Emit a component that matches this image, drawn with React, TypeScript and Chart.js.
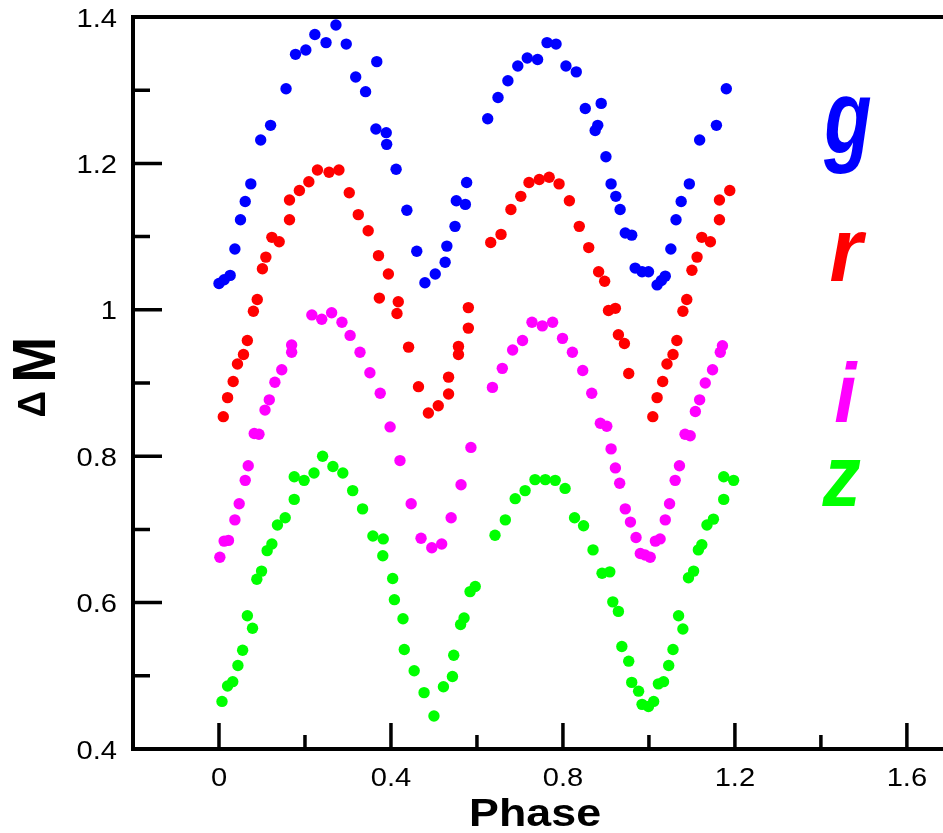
import React, { useEffect, useRef } from 'react';
import { Chart, registerables } from 'chart.js';

Chart.register(...registerables);

// ---------- data (phase, ΔM) ----------
const G_PHASE = [0.0, 0.012, 0.026, 0.037, 0.05, 0.061, 0.074, 0.097, 0.12, 0.156, 0.178, 0.202, 0.223, 0.249, 0.272, 0.296, 0.318, 0.341, 0.367, 0.365, 0.389, 0.39, 0.412, 0.437, 0.46, 0.479, 0.503, 0.526, 0.53, 0.549, 0.552, 0.573, 0.576, 0.625, 0.649, 0.672, 0.695, 0.717, 0.741, 0.763, 0.784, 0.807, 0.831, 0.852, 0.889, 0.881, 0.875, 0.9, 0.912, 0.923, 0.933, 0.945, 0.96, 0.968, 0.984, 0.999, 1.019, 1.029, 1.038, 1.051, 1.063, 1.075, 1.094, 1.118, 1.157, 1.18];
const G_MAG = [1.036, 1.041, 1.047, 1.083, 1.123, 1.148, 1.172, 1.232, 1.252, 1.302, 1.349, 1.355, 1.376, 1.365, 1.389, 1.363, 1.318, 1.298, 1.339, 1.247, 1.242, 1.226, 1.192, 1.136, 1.08, 1.037, 1.049, 1.065, 1.087, 1.114, 1.149, 1.144, 1.174, 1.261, 1.29, 1.313, 1.333, 1.344, 1.342, 1.365, 1.363, 1.333, 1.325, 1.275, 1.282, 1.252, 1.245, 1.209, 1.172, 1.155, 1.137, 1.105, 1.102, 1.057, 1.052, 1.052, 1.034, 1.04, 1.046, 1.083, 1.123, 1.148, 1.172, 1.232, 1.252, 1.302];

const R_PHASE = [0.01, 0.02, 0.033, 0.043, 0.057, 0.066, 0.08, 0.089, 0.101, 0.109, 0.123, 0.14, 0.164, 0.164, 0.187, 0.209, 0.229, 0.256, 0.279, 0.303, 0.324, 0.347, 0.371, 0.373, 0.394, 0.414, 0.417, 0.441, 0.464, 0.487, 0.51, 0.534, 0.534, 0.557, 0.557, 0.58, 0.58, 0.632, 0.656, 0.679, 0.702, 0.721, 0.745, 0.768, 0.791, 0.815, 0.838, 0.86, 0.883, 0.897, 0.906, 0.922, 0.929, 0.943, 0.953, 1.009, 1.019, 1.032, 1.042, 1.056, 1.065, 1.079, 1.088, 1.1, 1.112, 1.123, 1.143, 1.164, 1.164, 1.188];
const R_MAG = [0.854, 0.88, 0.902, 0.926, 0.939, 0.958, 0.998, 1.014, 1.056, 1.072, 1.099, 1.093, 1.123, 1.15, 1.163, 1.175, 1.191, 1.188, 1.191, 1.16, 1.13, 1.108, 1.074, 1.016, 1.049, 0.995, 1.011, 0.949, 0.895, 0.859, 0.869, 0.885, 0.908, 0.939, 0.95, 0.975, 1.003, 1.092, 1.103, 1.137, 1.155, 1.174, 1.178, 1.181, 1.172, 1.149, 1.114, 1.085, 1.052, 1.039, 0.999, 1.002, 0.966, 0.954, 0.913, 0.854, 0.88, 0.902, 0.926, 0.939, 0.958, 0.998, 1.014, 1.054, 1.072, 1.099, 1.093, 1.123, 1.15, 1.163];

const I_PHASE = [0.002, 0.012, 0.022, 0.037, 0.047, 0.061, 0.068, 0.082, 0.093, 0.107, 0.117, 0.13, 0.146, 0.169, 0.169, 0.216, 0.239, 0.262, 0.286, 0.305, 0.328, 0.351, 0.375, 0.398, 0.421, 0.447, 0.47, 0.495, 0.518, 0.54, 0.563, 0.586, 0.636, 0.659, 0.683, 0.706, 0.728, 0.752, 0.776, 0.799, 0.822, 0.846, 0.867, 0.887, 0.902, 0.912, 0.922, 0.932, 0.945, 0.957, 0.97, 0.98, 0.991, 1.003, 1.015, 1.026, 1.038, 1.048, 1.061, 1.071, 1.084, 1.096, 1.108, 1.118, 1.131, 1.148, 1.166, 1.171];
const I_MAG = [0.662, 0.684, 0.685, 0.713, 0.735, 0.767, 0.787, 0.831, 0.83, 0.863, 0.877, 0.901, 0.918, 0.942, 0.952, 0.993, 0.987, 0.996, 0.983, 0.965, 0.942, 0.914, 0.886, 0.84, 0.794, 0.735, 0.688, 0.675, 0.68, 0.716, 0.761, 0.812, 0.894, 0.92, 0.945, 0.958, 0.983, 0.978, 0.983, 0.961, 0.942, 0.917, 0.886, 0.845, 0.841, 0.81, 0.784, 0.763, 0.728, 0.71, 0.689, 0.667, 0.665, 0.662, 0.684, 0.687, 0.713, 0.735, 0.767, 0.787, 0.83, 0.828, 0.861, 0.877, 0.9, 0.918, 0.942, 0.951];

const Z_PHASE = [0.007, 0.02, 0.032, 0.044, 0.055, 0.066, 0.078, 0.088, 0.099, 0.112, 0.123, 0.136, 0.154, 0.175, 0.175, 0.198, 0.221, 0.241, 0.265, 0.288, 0.311, 0.334, 0.358, 0.382, 0.381, 0.404, 0.408, 0.428, 0.431, 0.454, 0.477, 0.5, 0.522, 0.543, 0.546, 0.562, 0.57, 0.584, 0.596, 0.642, 0.666, 0.689, 0.712, 0.735, 0.759, 0.782, 0.805, 0.827, 0.848, 0.87, 0.891, 0.909, 0.916, 0.929, 0.937, 0.953, 0.96, 0.976, 0.984, 0.999, 1.011, 1.022, 1.034, 1.046, 1.056, 1.069, 1.079, 1.092, 1.104, 1.115, 1.123, 1.135, 1.15, 1.174, 1.174, 1.197];
const Z_MAG = [0.465, 0.486, 0.492, 0.514, 0.535, 0.582, 0.565, 0.632, 0.643, 0.671, 0.68, 0.706, 0.716, 0.741, 0.772, 0.767, 0.777, 0.8, 0.786, 0.777, 0.753, 0.728, 0.691, 0.687, 0.664, 0.633, 0.604, 0.578, 0.536, 0.507, 0.477, 0.445, 0.485, 0.499, 0.528, 0.57, 0.579, 0.615, 0.622, 0.692, 0.713, 0.742, 0.753, 0.768, 0.768, 0.767, 0.756, 0.716, 0.705, 0.672, 0.64, 0.642, 0.601, 0.588, 0.54, 0.52, 0.491, 0.479, 0.461, 0.458, 0.465, 0.489, 0.492, 0.514, 0.536, 0.582, 0.564, 0.634, 0.643, 0.672, 0.679, 0.706, 0.714, 0.741, 0.772, 0.767];

const X_MAJOR = [0, 0.4, 0.8, 1.2, 1.6];
const X_MINOR = [0.2, 0.6, 1.0, 1.4];
const X_LABELS = ['0', '0.4', '0.8', '1.2', '1.6'];
const Y_MAJOR = [0.4, 0.6, 0.8, 1.0, 1.2, 1.4];
const Y_MINOR = [0.5, 0.7, 0.9, 1.1, 1.3];
const Y_LABELS = ['0.4', '0.6', '0.8', '1', '1.2', '1.4'];

const BAND_NAMES = ['g', 'r', 'i', 'z'];
const BAND_COLORS = ['#0000ff', '#ff0000', '#ff00ff', '#00ff00'];
// label ink boxes in data units: [phaseLeft, phaseRight, magTop, magBottom]
const BAND_BOXES = [
  [1.406, 1.515, 1.2915, 1.1855],
  [1.422, 1.506, 1.1055, 1.039],
  [1.433, 1.487, 0.9295, 0.8455],
  [1.402, 1.493, 0.7945, 0.7315],
];

const FONT = '"Liberation Sans", Arial, sans-serif';

function drawFit(ctx: CanvasRenderingContext2D, text: string, font: string, color: string,
  cx: number, cy: number, w: number, h: number, rotate: boolean) {
  ctx.save();
  ctx.font = font;
  ctx.fillStyle = color;
  ctx.textAlign = 'left';
  ctx.textBaseline = 'alphabetic';
  const m = ctx.measureText(text);
  const inkW = m.actualBoundingBoxLeft + m.actualBoundingBoxRight;
  const inkH = m.actualBoundingBoxAscent + m.actualBoundingBoxDescent;
  const inkCx = (m.actualBoundingBoxRight - m.actualBoundingBoxLeft) / 2;
  const inkCy = (m.actualBoundingBoxDescent - m.actualBoundingBoxAscent) / 2;
  ctx.translate(cx, cy);
  if (rotate) ctx.rotate(-Math.PI / 2);
  const along = rotate ? h : w;
  const across = rotate ? w : h;
  ctx.scale(along / inkW, across / inkH);
  ctx.fillText(text, -inkCx, -inkCy);
  ctx.restore();
}

const framePlugin = {
  id: 'frame',
  afterDraw(chart: any) {
    const { ctx, chartArea } = chart;
    const { left, top, right, bottom } = chartArea;
    const xs = chart.scales.x;
    const ys = chart.scales.y;
    ctx.save();
    ctx.strokeStyle = '#000';
    ctx.lineCap = 'butt';
    ctx.lineJoin = 'miter';
    // frame (left, top, bottom)
    ctx.lineWidth = 4;
    ctx.beginPath();
    ctx.moveTo(right + 2, top);
    ctx.lineTo(left, top);
    ctx.lineTo(left, bottom);
    ctx.lineTo(right + 2, bottom);
    ctx.stroke();
    // ticks (inward)
    ctx.lineWidth = 3.5;
    ctx.beginPath();
    X_MAJOR.forEach((v) => { const p = xs.getPixelForValue(v); ctx.moveTo(p, bottom); ctx.lineTo(p, bottom - 26); });
    X_MINOR.forEach((v) => { const p = xs.getPixelForValue(v); ctx.moveTo(p, bottom); ctx.lineTo(p, bottom - 14); });
    Y_MAJOR.forEach((v) => { const p = ys.getPixelForValue(v); ctx.moveTo(left, p); ctx.lineTo(left + 29, p); });
    Y_MINOR.forEach((v) => { const p = ys.getPixelForValue(v); ctx.moveTo(left, p); ctx.lineTo(left + 17, p); });
    ctx.stroke();
    // tick labels
    ctx.fillStyle = '#000';
    ctx.font = `26px ${FONT}`;
    ctx.textBaseline = 'alphabetic';
    const sx = 1.12;
    X_MAJOR.forEach((v, i) => {
      const p = xs.getPixelForValue(v);
      ctx.save();
      ctx.translate(p, bottom + 37);
      ctx.scale(sx, 1);
      ctx.textAlign = 'center';
      ctx.fillText(X_LABELS[i], 0, 0);
      ctx.restore();
    });
    Y_MAJOR.forEach((v, i) => {
      const p = ys.getPixelForValue(v);
      ctx.save();
      ctx.translate(left - 16, p + 9.5);
      ctx.scale(sx, 1);
      ctx.textAlign = 'right';
      ctx.fillText(Y_LABELS[i], 0, 0);
      ctx.restore();
    });
    // axis titles
    drawFit(ctx, 'Phase', `bold 40px ${FONT}`, '#000', left + 402.5, bottom + 62.7, 128.3, 29.5, false);
    drawFit(ctx, 'M', `bold 58px ${FONT}`, '#000', left - 99.5, top + 343, 42.3, 40, true);
    drawFit(ctx, '\u0394', `bold 37px ${FONT}`, '#000', left - 101.6, top + 386.9, 26.7, 25, true);
    // band labels
    BAND_NAMES.forEach((name, i) => {
      const b = BAND_BOXES[i];
      const x0 = xs.getPixelForValue(b[0]);
      const x1 = xs.getPixelForValue(b[1]);
      const y0 = ys.getPixelForValue(b[2]);
      const y1 = ys.getPixelForValue(b[3]);
      drawFit(ctx, name, `bold italic 96px ${FONT}`, BAND_COLORS[i], (x0 + x1) / 2, (y0 + y1) / 2, x1 - x0, y1 - y0, false);
    });
    ctx.restore();
  },
};

function makeData(ph: number[], mag: number[]) {
  return ph.map((p, i) => ({ x: p, y: mag[i] }));
}

export default function App() {
  const ref = useRef<HTMLCanvasElement | null>(null);
  useEffect(() => {
    document.body.style.margin = '0';
    document.body.style.overflow = 'hidden';
    const canvas = ref.current;
    if (!canvas) return;
    const sets = [
      [G_PHASE, G_MAG],
      [R_PHASE, R_MAG],
      [I_PHASE, I_MAG],
      [Z_PHASE, Z_MAG],
    ];
    const chart = new Chart(canvas, {
      type: 'scatter',
      data: {
        datasets: sets.map((s, i) => ({
          label: BAND_NAMES[i],
          data: makeData(s[0], s[1]),
          backgroundColor: BAND_COLORS[i],
          borderColor: BAND_COLORS[i],
          pointRadius: 5.7,
          pointBorderWidth: 0,
          pointHoverRadius: 5.7,
        })),
      },
      options: {
        responsive: false,
        animation: false,
        devicePixelRatio: 1,
        layout: { autoPadding: false, padding: { left: 133, top: 17, right: 0, bottom: 84 } },
        plugins: { legend: { display: false }, tooltip: { enabled: false } },
        scales: {
          x: { type: 'linear', min: -0.2, max: 1.684, display: false },
          y: { type: 'linear', min: 0.4, max: 1.4, display: false },
        },
      },
      plugins: [framePlugin],
    });
    return () => chart.destroy();
  }, []);
  return (
    <div style={{ width: 943, height: 833, background: '#fff' }}>
      <canvas ref={ref} width={943} height={833} style={{ display: 'block' }} />
    </div>
  );
}
